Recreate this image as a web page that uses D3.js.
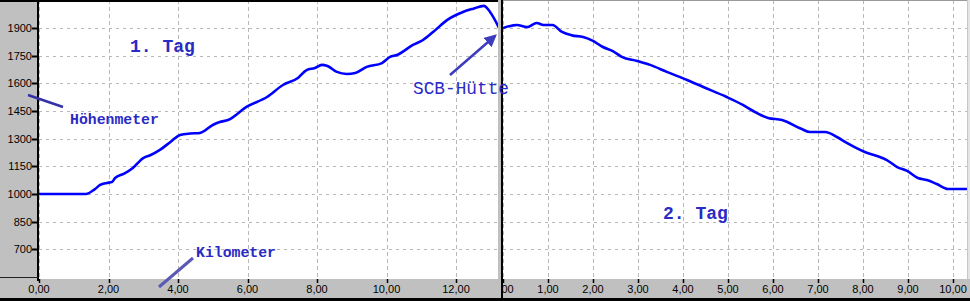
<!DOCTYPE html>
<html>
<head>
<meta charset="utf-8">
<script src="https://cdn.jsdelivr.net/npm/d3@7"></script>
<style>
  html, body { margin: 0; padding: 0; background: #fff; }
  svg { display: block; }
</style>
</head>
<body>
<div id="chart"></div>
<script>
const Width = 970
const Height = 301

const elevTicks = [700, 850, 1000, 1150, 1300, 1450, 1600, 1750, 1900]
const day1Ticks = [0, 2, 4, 6, 8, 10, 12]
const day2Ticks = [0, 1, 2, 3, 4, 5, 6, 7, 8, 9, 10]

// Tag 1: km / Höhe
const day1Km = [0, 1.35, 1.6, 1.76, 1.95, 2.1, 2.19, 2.45, 2.7, 3.0, 3.2, 3.48, 3.8, 4.06, 4.35, 4.63,
  5.0, 5.2, 5.44, 5.97, 6.56, 7.02, 7.45, 7.7, 7.94, 8.14, 8.3, 8.57, 8.86, 9.1, 9.43, 9.87,
  10.1, 10.3, 10.76, 11.05, 11.34, 11.74, 12.2, 12.5, 12.8, 12.98, 13.24]
const day1Elev = [1000, 1000, 1025, 1049, 1060, 1065, 1087, 1110, 1141, 1195, 1210, 1239, 1285, 1320, 1328, 1331,
  1374, 1390, 1401, 1472, 1526, 1591, 1629, 1672, 1683, 1700, 1694, 1662, 1651, 1656, 1689, 1710,
  1743, 1754, 1808, 1835, 1878, 1943, 1987, 2005, 2020, 1987, 1900]

// Tag 2
const day2Km = [0, 0.31, 0.53, 0.75, 0.9, 1.1, 1.3, 1.53, 1.78, 2.0, 2.22, 2.44, 2.64, 2.98, 3.27, 3.64,
  4.09, 4.45, 4.97, 5.33, 5.56, 5.89, 6.2, 6.64, 6.82, 7.16, 7.42, 7.64, 8.04, 8.31, 8.53, 8.76,
  8.98, 9.22, 9.42, 9.64, 9.89, 10.31]
const day2Elev = [1900, 1916, 1905, 1927, 1916, 1916, 1880, 1860, 1851, 1830, 1797, 1775, 1743, 1721, 1700, 1662,
  1618, 1580, 1526, 1483, 1450, 1412, 1401, 1352, 1336, 1336, 1309, 1277, 1228, 1206, 1184, 1146,
  1125, 1087, 1076, 1054, 1027, 1027]

const axisGray = '#c0c0c0'
const gridColor = '#b8b8b8'
const textBlue = '#2a2ac4'
const lineBlue = '#0000ff'

const plotBottom = 279
const panel1 = [39, 499]
const panel2 = [503, 967]

const y = d3.scaleLinear([1000, 1900], [194, 28])
const x1 = d3.scaleLinear([0, 12], [39, 456])
const x2 = d3.scaleLinear([0, 10], [503, 953])

const fmtKm = v => d3.format('.2f')(v).replace('.', ',')

const svg = d3.select('#chart').append('svg')
  .attr('width', Width)
  .attr('height', Height)
  .style('font-family', '"Liberation Sans", Arial, sans-serif')

const defs = svg.append('defs')
defs.append('clipPath').attr('id', 'clip1')
  .append('rect').attr('x', panel1[0]).attr('y', 0)
  .attr('width', panel1[1] - panel1[0]).attr('height', plotBottom)
defs.append('clipPath').attr('id', 'clip2')
  .append('rect').attr('x', panel2[0]).attr('y', 0)
  .attr('width', panel2[1] - panel2[0]).attr('height', plotBottom)
defs.append('clipPath').attr('id', 'clip2axis')
  .append('rect').attr('x', panel2[0]).attr('y', plotBottom)
  .attr('width', Width - panel2[0]).attr('height', Height - plotBottom)
defs.append('marker')
  .attr('id', 'arrow')
  .attr('viewBox', '0 0 10 10')
  .attr('refX', 8).attr('refY', 5)
  .attr('markerWidth', 5).attr('markerHeight', 5)
  .attr('orient', 'auto')
  .append('path')
  .attr('d', 'M0,0 L10,5 L0,10 z')
  .attr('fill', '#3c3cbe')

// background frame
svg.append('rect').attr('width', Width).attr('height', Height).attr('fill', '#fff')
svg.append('rect').attr('x', 0).attr('y', 0).attr('width', 37).attr('height', plotBottom).attr('fill', axisGray)
svg.append('rect').attr('x', 0).attr('y', plotBottom).attr('width', Width).attr('height', Height - plotBottom).attr('fill', axisGray)

function renderPanel(x, xTicks, clipId, km, elev) {
  const [left, right] = x === x1 ? panel1 : panel2
  const g = svg.append('g').attr('clip-path', `url(#${clipId})`)

  g.selectAll('.hgrid').data(elevTicks).enter()
    .append('line')
    .attr('x1', left).attr('x2', right)
    .attr('y1', d => Math.round(y(d)) + 0.5).attr('y2', d => Math.round(y(d)) + 0.5)
    .attr('stroke', gridColor)
    .attr('stroke-dasharray', '3,4')

  g.selectAll('.vgrid').data(xTicks).enter()
    .append('line')
    .attr('x1', d => Math.round(x(d)) + 0.5).attr('x2', d => Math.round(x(d)) + 0.5)
    .attr('y1', 0).attr('y2', plotBottom)
    .attr('stroke', gridColor)
    .attr('stroke-dasharray', '4,3')

  const line = d3.line()
    .x((d, i) => x(km[i]))
    .y((d, i) => y(elev[i]))
    .curve(d3.curveMonotoneX)

  g.append('path')
    .datum(km)
    .attr('d', line)
    .attr('fill', 'none')
    .attr('stroke', lineBlue)
    .attr('stroke-width', 2.6)
    .attr('stroke-linejoin', 'round')
}

renderPanel(x1, day1Ticks, 'clip1', day1Km, day1Elev)
renderPanel(x2, day2Ticks, 'clip2', day2Km, day2Elev)

// y axis
const yAxis = svg.append('g')
yAxis.selectAll('text').data(elevTicks).enter()
  .append('text')
  .attr('x', 32).attr('y', d => y(d) + 4)
  .attr('text-anchor', 'end')
  .attr('font-size', 11)
  .attr('fill', '#000')
  .text(d => d)
yAxis.selectAll('line').data(elevTicks).enter()
  .append('line')
  .attr('x1', 32).attr('x2', 38)
  .attr('y1', d => Math.round(y(d)) + 0.5).attr('y2', d => Math.round(y(d)) + 0.5)
  .attr('stroke', '#000').attr('stroke-width', 2)

function renderXAxis(x, ticks, clipId) {
  const g = svg.append('g')
  if (clipId) g.attr('clip-path', `url(#${clipId})`)
  g.selectAll('text').data(ticks).enter()
    .append('text')
    .attr('x', d => x(d)).attr('y', 293)
    .attr('text-anchor', 'middle')
    .attr('font-size', 11)
    .attr('fill', '#000')
    .text(fmtKm)
  g.selectAll('line').data(ticks).enter()
    .append('line')
    .attr('x1', d => Math.round(x(d)) + 0.5).attr('x2', d => Math.round(x(d)) + 0.5)
    .attr('y1', plotBottom).attr('y2', plotBottom + 4)
    .attr('stroke', '#000').attr('stroke-width', 1.5)
}
renderXAxis(x1, day1Ticks, null)
renderXAxis(x2, day2Ticks, 'clip2axis')

// frame lines
svg.append('rect').attr('x', 0).attr('y', 0).attr('width', 501).attr('height', 2).attr('fill', '#000')
svg.append('rect').attr('x', 503).attr('y', 0).attr('width', Width - 503).attr('height', 1).attr('fill', '#9a9a9a')
svg.append('rect').attr('x', 37).attr('y', 0).attr('width', 2).attr('height', plotBottom + 2).attr('fill', '#000')
svg.append('rect').attr('x', 0).attr('y', plotBottom - 2).attr('width', 38).attr('height', 1).attr('fill', '#222')
svg.append('rect').attr('x', 498).attr('y', 0).attr('width', 3).attr('height', plotBottom).attr('fill', axisGray)
svg.append('rect').attr('x', 501).attr('y', 0).attr('width', 2).attr('height', Height).attr('fill', '#000')
svg.append('rect').attr('x', 967).attr('y', 0).attr('width', 3).attr('height', plotBottom).attr('fill', '#e4e4e4')
svg.append('rect').attr('x', 967).attr('y', 0).attr('width', 1).attr('height', plotBottom).attr('fill', '#c8c8c8')
svg.append('rect').attr('x', 0).attr('y', 298).attr('width', Width).attr('height', 3).attr('fill', '#000')

// annotations
const notes = svg.append('g')
  .attr('font-family', '"Liberation Mono", "Courier New", monospace')
  .attr('fill', textBlue)

notes.append('text').attr('x', 130).attr('y', 52).attr('font-size', 18).attr('font-weight', 'bold').text('1. Tag')
notes.append('text').attr('x', 663).attr('y', 219).attr('font-size', 18).attr('font-weight', 'bold').text('2. Tag')
notes.append('text').attr('x', 70).attr('y', 124).attr('font-size', 14.8).attr('font-weight', 'bold').text('Höhenmeter')
notes.append('text').attr('x', 196).attr('y', 257).attr('font-size', 14.8).attr('font-weight', 'bold').text('Kilometer')
notes.append('text').attr('x', 413).attr('y', 94).attr('font-size', 17.8).text('SCB-Hütte')

svg.append('line')
  .attr('x1', 28).attr('y1', 95).attr('x2', 63).attr('y2', 107)
  .attr('stroke', '#3232a6').attr('stroke-width', 2.5)
svg.append('line')
  .attr('x1', 159).attr('y1', 287).attr('x2', 193).attr('y2', 258)
  .attr('stroke', '#5a5ab4').attr('stroke-width', 3)
svg.append('line')
  .attr('x1', 450).attr('y1', 75).attr('x2', 495).attr('y2', 36)
  .attr('stroke', '#3c3cbe').attr('stroke-width', 2.5)
  .attr('marker-end', 'url(#arrow)')
</script>
</body>
</html>
